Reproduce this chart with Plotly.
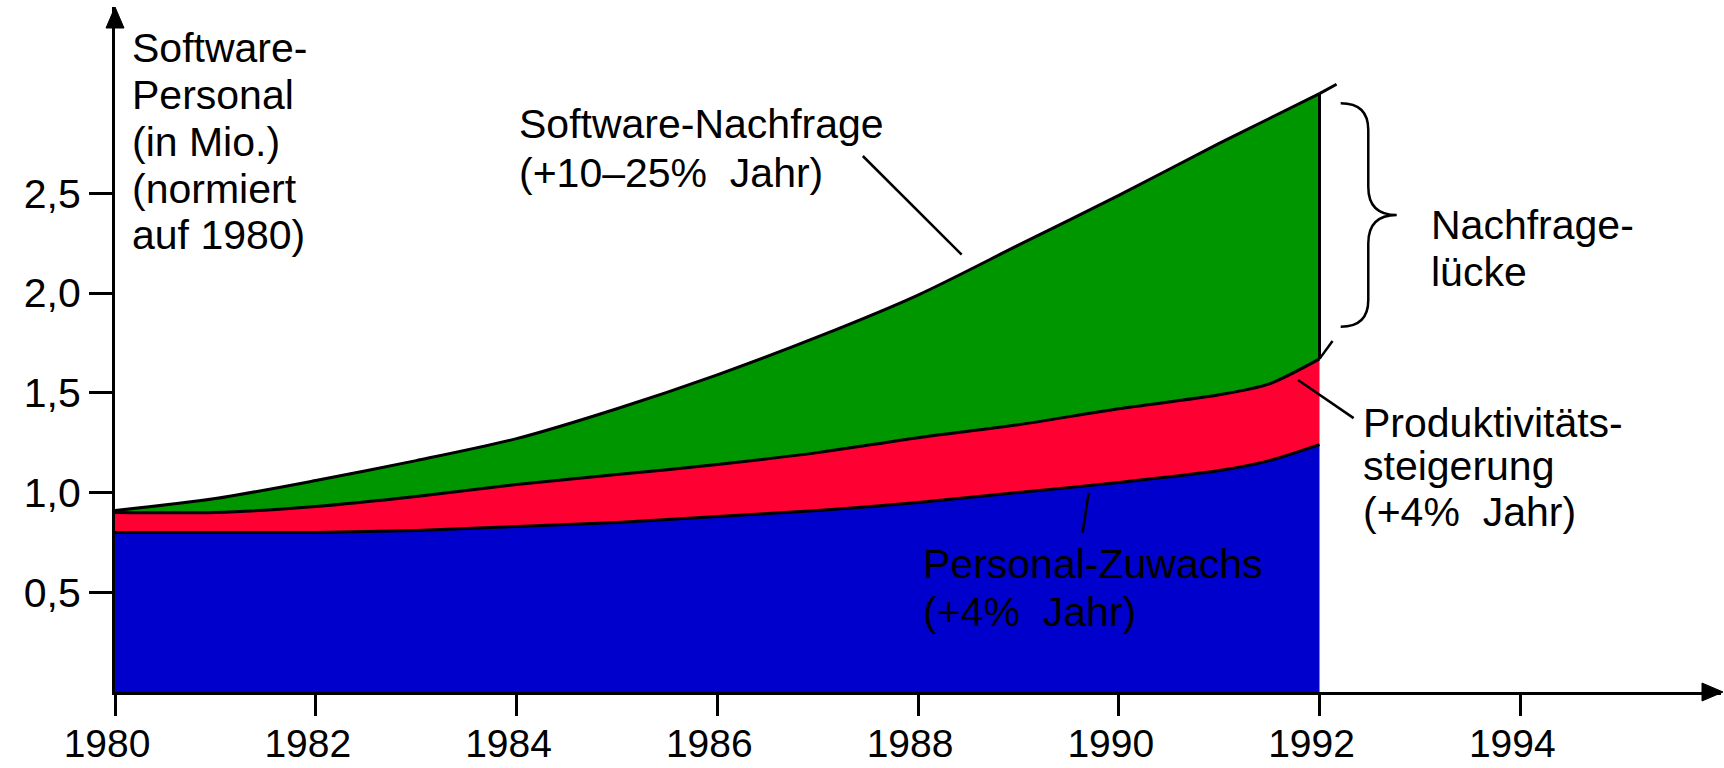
import plotly.graph_objects as go

# data (Software-Personal in Mio., normiert auf 1980)
YEARS = [1980, 1981, 1982, 1983, 1984, 1985, 1986, 1987, 1988, 1989, 1990, 1991, 1991.5, 1992]
PERSONAL = [0.80, 0.80, 0.80, 0.81, 0.83, 0.85, 0.88, 0.91, 0.95, 1.00, 1.05, 1.11, 1.16, 1.24]
PRODUKTIV = [0.90, 0.90, 0.93, 0.98, 1.04, 1.09, 1.14, 1.20, 1.275, 1.34, 1.42, 1.49, 1.545, 1.67]
NACHFRAGE = [0.91, 0.97, 1.06, 1.16, 1.27, 1.42, 1.59, 1.78, 1.99, 2.24, 2.49, 2.75, 2.875, 3.00]

# short continuation strokes past 1992
NACHFRAGE_EXT_X = [1992, 1992.17]
NACHFRAGE_EXT_Y = [3.00, 3.047]
PRODUKTIV_EXT_X = [1992, 1992.13]
PRODUKTIV_EXT_Y = [1.67, 1.76]

X_TICKS = [1980, 1982, 1984, 1986, 1988, 1990, 1992, 1994]
Y_TICKS = [0.5, 1.0, 1.5, 2.0, 2.5]
Y_TICKTEXT = ["0,5", "1,0", "1,5", "2,0", "2,5"]

Y_TITLE = ["Software-", "Personal", "(in Mio.)", "(normiert", "auf 1980)"]
LBL_NACHFRAGE = ["Software-Nachfrage", "(+10–25%  Jahr)"]
LBL_LUECKE = ["Nachfrage-", "lücke"]
LBL_PRODUKTIV = ["Produktivitäts-", "steigerung", "(+4%  Jahr)"]
LBL_PERSONAL = ["Personal-Zuwachs", "(+4%  Jahr)"]

BLUE = "#0000cc"
RED = "#ff0033"
GREEN = "#009600"
FONT = "Liberation Sans, Arial, sans-serif"
FS = 41

fig = go.Figure()

line_style = dict(color="black", width=3, shape="spline", smoothing=0.8)

fig.add_trace(go.Scatter(x=YEARS, y=PERSONAL, mode="lines", fill="tozeroy",
                         fillcolor=BLUE, line=line_style, hoverinfo="skip"))
fig.add_trace(go.Scatter(x=YEARS, y=PRODUKTIV, mode="lines", fill="tonexty",
                         fillcolor=RED, line=line_style, hoverinfo="skip"))
fig.add_trace(go.Scatter(x=YEARS, y=NACHFRAGE, mode="lines", fill="tonexty",
                         fillcolor=GREEN, line=line_style, hoverinfo="skip"))
fig.add_trace(go.Scatter(x=NACHFRAGE_EXT_X, y=NACHFRAGE_EXT_Y, mode="lines",
                         line=dict(color="black", width=3), hoverinfo="skip"))
fig.add_trace(go.Scatter(x=PRODUKTIV_EXT_X, y=PRODUKTIV_EXT_Y, mode="lines",
                         line=dict(color="black", width=2.5), hoverinfo="skip"))

shapes = []
# right edge of the demand area
shapes.append(dict(type="line", xref="x", yref="y", x0=YEARS[-1], x1=YEARS[-1],
                   y0=PRODUKTIV[-1], y1=NACHFRAGE[-1], line=dict(color="black", width=3)))

# leader lines for the labels
leaders = [
    (1987.45, 2.687, 1988.435, 2.193),
    (1991.786, 1.564, 1992.34, 1.373),
    (1989.70, 0.999, 1989.64, 0.798),
]
for x0, y0, x1, y1 in leaders:
    shapes.append(dict(type="line", xref="x", yref="y", x0=x0, y0=y0, x1=x1, y1=y1,
                       line=dict(color="black", width=2.5)))

# curly brace for the "Nachfragelücke"
xl, xm, xt = 1992.211, 1992.486, 1992.769
yt, yb, ym = 2.951, 1.831, 2.391
r1, r2 = 0.134, 0.142
brace = (f"M{xl},{yt} Q{xm},{yt} {xm},{yt - r1} L{xm},{ym + r2} "
         f"Q{xm},{ym} {xt},{ym} Q{xm},{ym} {xm},{ym - r2} "
         f"L{xm},{yb + r1} Q{xm},{yb} {xl},{yb}")
shapes.append(dict(type="path", xref="x", yref="y", path=brace,
                   line=dict(color="black", width=2.5)))

# arrow heads on both axes
shapes.append(dict(type="path", xref="x domain", yref="y domain", xsizemode="pixel", ysizemode="pixel",
                   xanchor=1, yanchor=0, path="M2,0 L-19,9 L-19,-9 Z",
                   fillcolor="black", line=dict(color="black", width=1)))
shapes.append(dict(type="path", xref="x domain", yref="y domain", xsizemode="pixel", ysizemode="pixel",
                   xanchor=0, yanchor=1, path="M0,0 L-9,-21 L9,-21 Z",
                   fillcolor="black", line=dict(color="black", width=1)))

annotations = []


def add_lines(lines, x, ys):
    for txt, y in zip(lines, ys):
        annotations.append(dict(x=x, y=y, xref="x", yref="y", text=txt, showarrow=False,
                                xanchor="left", yanchor="middle",
                                font=dict(family=FONT, size=FS, color="black")))


add_lines(Y_TITLE, 1980.15, [3.227, 2.992, 2.758, 2.524, 2.290])
add_lines(LBL_NACHFRAGE, 1984.0, [2.847, 2.600])
add_lines(LBL_LUECKE, 1993.09, [2.341, 2.105])
add_lines(LBL_PRODUKTIV, 1992.41, [1.351, 1.133, 0.904])
add_lines(LBL_PERSONAL, 1988.03, [0.642, 0.402])

fig.update_xaxes(
    range=[1980, 1996],
    tickvals=X_TICKS,
    ticks="outside", ticklen=21, tickwidth=3, tickcolor="black",
    showline=True, linewidth=3, linecolor="black",
    showgrid=False, zeroline=False, automargin=False,
    tickfont=dict(family=FONT, size=39, color="black"),
    ticklabelshift=-8, ticklabelstandoff=-6,
)
fig.update_yaxes(
    range=[0, 3.434],
    tickvals=Y_TICKS, ticktext=Y_TICKTEXT,
    ticks="outside", ticklen=23, tickwidth=3, tickcolor="black",
    showline=True, linewidth=3, linecolor="black",
    showgrid=False, zeroline=False, automargin=False,
    tickfont=dict(family=FONT, size=FS, color="black"),
)

fig.update_layout(
    width=1724, height=768,
    autosize=False,
    margin=dict(l=115, r=3, t=7, b=76, pad=0),
    plot_bgcolor="white", paper_bgcolor="white",
    showlegend=False,
    shapes=shapes,
    annotations=annotations,
)

# remove the default page margin so the figure sits at the window's corner
fig.write_html("out.html", config={"displayModeBar": False},
               post_script="document.body.style.margin='0';")
